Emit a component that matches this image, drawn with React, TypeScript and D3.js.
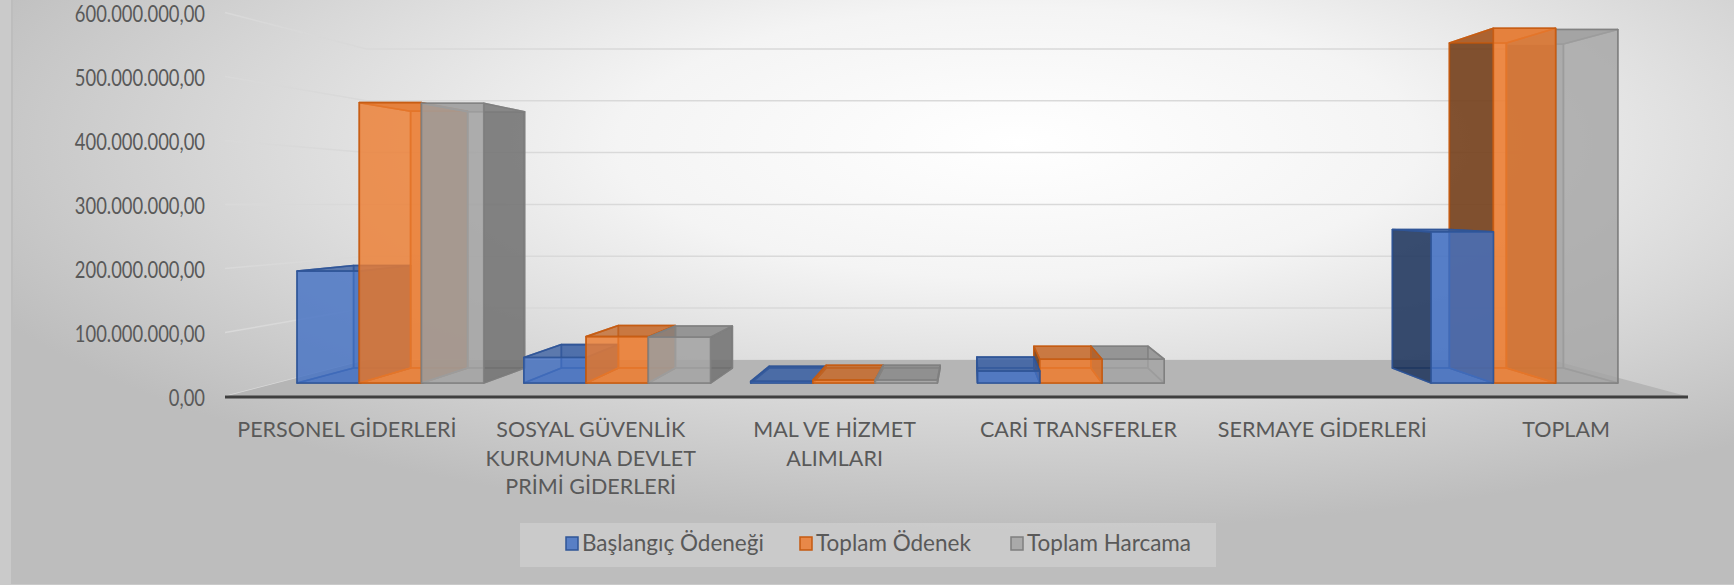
import React from 'react';
import * as d3 from 'd3';

// kategori etiketleri (\n = satır sonu)
const categories = [
  'PERSONEL GİDERLERİ',
  'SOSYAL GÜVENLİK\nKURUMUNA DEVLET\nPRİMİ GİDERLERİ',
  'MAL VE HİZMET\nALIMLARI',
  'CARİ TRANSFERLER',
  'SERMAYE GİDERLERİ',
  'TOPLAM',
];
const seriesNames = ['Başlangıç Ödeneği', 'Toplam Ödenek', 'Toplam Harcama'];
const baslangicOdenegi = [188e6, 43e6, 3e6, 20e6, 0, 254e6];
const toplamOdenek = [471e6, 78e6, 5e6, 40e6, 0, 596e6];
const toplamHarcama = [470e6, 77e6, 5e6, 40e6, 0, 594e6];
const yTicks = [0, 100e6, 200e6, 300e6, 400e6, 500e6, 600e6];
const seriesColors = ['#4472C4', '#ED7D31', '#A5A5A5'];
const seriesLines = ['#2F5597', '#C55A11', '#7F7F7F'];

const W = 1734;
const H = 585;
const FONT = 'Lato, "Open Sans", sans-serif';

// perspektif: kaçış noktası ve derinlik
const VX = 970;
const VY = 204;
const DEPTH = 4.263;
const Z_FRONT = 0.32;
const Z_BACK = 0.74;

const trLocale = d3.formatLocale({ decimal: ',', thousands: '.', grouping: [3], currency: ['', ''] });
const fmt = trLocale.format(',.2f');

const x = d3.scaleBand<number>()
  .domain(d3.range(categories.length))
  .range([225, 1688])
  .paddingInner(0.177)
  .paddingOuter(0.0885);
const xs = d3.scaleBand<number>().domain([0, 1, 2]).range([0, x.bandwidth()]);
const y = d3.scaleLinear().domain([0, 600e6]).range([396.5, 12.5]);

const proj = (X: number, v: number, z: number): [number, number] => {
  const f = DEPTH / (DEPTH + z);
  return [VX + (X - VX) * f, VY + (y(v) - VY) * f];
};
const poly = (pts: [number, number][]) => pts.map(p => p.join(',')).join(' ');

const values = [baslangicOdenegi, toplamOdenek, toplamHarcama];

type Bar = { key: string; s: number; x0: number; x1: number; v: number };

const bars: Bar[] = [];
categories.forEach((_, i) => {
  values.forEach((vals, s) => {
    if (!vals[i]) return;
    const x0 = (x(i) as number) + (xs(s) as number);
    bars.push({ key: `${i}-${s}`, s, x0, x1: x0 + xs.bandwidth(), v: vals[i] });
  });
});
// uzaktan yakına çiz
bars.sort((a, b) => Math.abs((b.x0 + b.x1) / 2 - VX) - Math.abs((a.x0 + a.x1) / 2 - VX));

function Box({ b }: { b: Bar }) {
  const base = d3.color(seriesColors[b.s])!;
  const line = seriesLines[b.s];
  const c = (k: number) => (k === 0 ? base.formatHex() : base.darker(k).formatHex());
  const { x0, x1, v } = b;
  const P = proj;
  const rightVisible = (x0 + x1) / 2 < VX;
  const hidden = { fill: c(0.15), op: 0.25 };
  const leftSide = rightVisible ? hidden : { fill: c(2.6), op: 0.75 };
  const rightSide = rightVisible ? { fill: c(1.2), op: 0.75 } : hidden;
  const faces = [
    // arka
    { pts: [P(x0, 0, Z_BACK), P(x1, 0, Z_BACK), P(x1, v, Z_BACK), P(x0, v, Z_BACK)], fill: c(0.15), op: 0.55 },
    // alt
    { pts: [P(x0, 0, Z_FRONT), P(x1, 0, Z_FRONT), P(x1, 0, Z_BACK), P(x0, 0, Z_BACK)], fill: c(0.1), op: 0.5 },
    // sol
    { pts: [P(x0, 0, Z_FRONT), P(x0, 0, Z_BACK), P(x0, v, Z_BACK), P(x0, v, Z_FRONT)], ...leftSide },
    // sağ
    { pts: [P(x1, 0, Z_FRONT), P(x1, 0, Z_BACK), P(x1, v, Z_BACK), P(x1, v, Z_FRONT)], ...rightSide },
    // üst
    { pts: [P(x0, v, Z_FRONT), P(x1, v, Z_FRONT), P(x1, v, Z_BACK), P(x0, v, Z_BACK)], fill: c(0.6), op: 0.7 },
    // ön
    { pts: [P(x0, 0, Z_FRONT), P(x1, 0, Z_FRONT), P(x1, v, Z_FRONT), P(x0, v, Z_FRONT)], fill: c(0), op: 0.75 },
  ];
  return (
    <g>
      {faces.map((f, i) => (
        <polygon key={i} points={poly(f.pts as [number, number][])} fill={f.fill} fillOpacity={f.op}
          stroke={line} strokeOpacity={0.85} strokeWidth={1.6} strokeLinejoin="round" />
      ))}
    </g>
  );
}

export default function App() {
  const XL = 225;
  const XR = 1688;
  const floor = [proj(XL, 0, 0), proj(XR, 0, 0), proj(XR, 0, 1), proj(XL, 0, 1)];
  const legendX = [566, 800, 1011];

  return (
    <svg width={W} height={H} style={{ position: 'fixed', left: 0, top: 0 }} fontFamily={FONT}>
      <defs>
        <radialGradient id="bg" cx="0.58" cy="0.25" r="0.66">
          <stop offset="0" stopColor="#ffffff" />
          <stop offset="0.35" stopColor="#f4f4f4" />
          <stop offset="1" stopColor="#bdbdbd" />
        </radialGradient>
      </defs>
      <rect width={W} height={H} fill="#cacaca" />
      <rect x={12} y={-4} width={W} height={587} fill="url(#bg)" stroke="#bdbdbd" strokeWidth={2} />

      {/* kılavuz çizgileri: sol duvar + arka duvar */}
      {yTicks.map(t => {
        const a = proj(XL, t, 0);
        const b = proj(XL, t, 1);
        const c = proj(XR, t, 1);
        return (
          <polyline key={t} points={poly([a, b, c])} fill="none" stroke="#d9d9d9" strokeWidth={1.5} />
        );
      })}

      {/* zemin */}
      <polygon points={poly(floor)} fill="#b5b5b5" />
      <line x1={XL} x2={XR} y1={y(0) + 0.5} y2={y(0) + 0.5} stroke="#3f3f3f" strokeWidth={3} />

      {bars.map(b => <Box key={b.key} b={b} />)}

      {/* y ekseni etiketleri */}
      {yTicks.map(t => (
        <text key={t} transform={`translate(205,${y(t) + 1}) scale(0.8,1)`} dy="0.36em" textAnchor="end"
          fontSize={23} fill="#595959">
          {fmt(t)}
        </text>
      ))}

      {/* kategori etiketleri */}
      {categories.map((cat, i) => (
        <text key={cat} x={(x(i) as number) + x.bandwidth() / 2} textAnchor="middle" fontSize={21.5} fill="#595959">
          {cat.split('\n').map((ln, j) => (
            <tspan key={j} x={(x(i) as number) + x.bandwidth() / 2} y={437 + j * 28.7}>{ln}</tspan>
          ))}
        </text>
      ))}

      {/* lejant */}
      <rect x={520} y={523} width={696} height={44} fill="#ffffff" fillOpacity={0.2} />
      {seriesNames.map((n, s) => (
        <g key={n} transform={`translate(${legendX[s]},0)`}>
          <rect x={0} y={537} width={12} height={13} fill={seriesColors[s]} fillOpacity={0.85}
            stroke={seriesLines[s]} strokeWidth={1.5} />
          <text x={16} y={551} fontSize={22.5} fill="#595959">{n}</text>
        </g>
      ))}
    </svg>
  );
}
